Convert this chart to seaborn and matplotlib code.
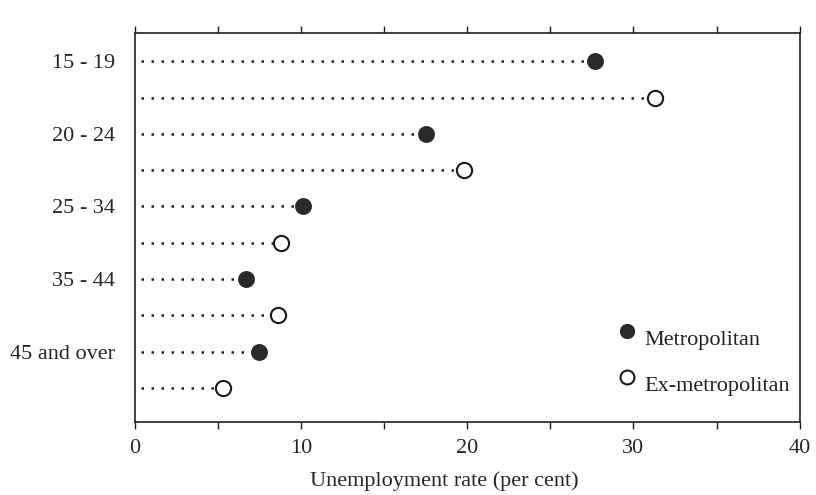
import numpy as np
import pandas as pd
import seaborn as sns
import matplotlib
matplotlib.use('Agg')
import matplotlib.pyplot as plt
from matplotlib.ticker import MultipleLocator

# Values.
age_groups = ["15 - 19", "20 - 24", "25 - 34", "35 - 44", "45 and over"]
metropolitan = [27.7, 17.5, 10.1, 6.7, 7.5]
ex_metropolitan = [31.3, 19.8, 8.8, 8.6, 5.3]
x_ticks = [0, 10, 20, 30, 40]
legend_labels = ["Metropolitan", "Ex-metropolitan"]

rows = []
for i, age in enumerate(age_groups):
    rows.append({"age": age, "kind": "Metropolitan", "rate": metropolitan[i], "row": 2 * i})
    rows.append({"age": age, "kind": "Ex-metropolitan", "rate": ex_metropolitan[i], "row": 2 * i + 1})
df = pd.DataFrame(rows)

sns.set_theme(style="white")
plt.rcParams['font.family'] = ['Liberation Serif', 'DejaVu Serif']

fig = plt.figure(figsize=(8.16, 4.95), dpi=100)
ax = fig.add_axes([0.165, 0.147, 0.815, 0.786])

# Dotted leader lines from the axis to each point.
ax.hlines(df["row"], 0.4, df["rate"] - 0.45, colors="#222222",
          linestyles=(0, (1, 3.0)), linewidth=1.8)

met = df[df["kind"] == "Metropolitan"]
exm = df[df["kind"] == "Ex-metropolitan"]
sns.scatterplot(data=met, x="rate", y="row", ax=ax, s=120, color="#2a2a2a",
                edgecolor="#2a2a2a", linewidth=1.2, zorder=3)
sns.scatterplot(data=exm, x="rate", y="row", ax=ax, s=120, facecolor="white",
                edgecolor="#1a1a1a", linewidth=1.5, zorder=3)

ax.set_xlim(0, 40)
ax.set_ylim(9.95, -0.78)
ax.set_xticks(x_ticks)
ax.xaxis.set_minor_locator(MultipleLocator(5))
ax.set_yticks(met["row"].tolist())
ax.set_yticklabels(age_groups, fontsize=16)
ax.tick_params(axis="x", which="both", direction="out", top=True, bottom=True,
               labeltop=False, length=5, width=1, color="#222222", labelsize=16, pad=7)
ax.tick_params(axis="y", length=0, pad=14)
for side in ax.spines.values():
    side.set_color("#222222")
    side.set_linewidth(1.2)

ax.set_xlabel("Unemployment rate (per cent)", fontsize=16)
ax.xaxis.set_label_coords(0.466, -0.125)
ax.set_ylabel("")

# Key: marker with its label set a little below it, as in the original.
key_y = [0.234, 0.116]
ax.plot(0.741, key_y[0], "o", transform=ax.transAxes, markersize=10,
        markerfacecolor="#2a2a2a", markeredgecolor="#2a2a2a", clip_on=False)
ax.plot(0.741, key_y[1], "o", transform=ax.transAxes, markersize=10,
        markerfacecolor="white", markeredgecolor="#1a1a1a", markeredgewidth=1.5, clip_on=False)
for y, label in zip(key_y, legend_labels):
    ax.text(0.767, y - 0.023, label, transform=ax.transAxes, fontsize=16,
            va="center", ha="left", color="#222222")

fig.savefig("out.png", dpi=100)
plt.close()
